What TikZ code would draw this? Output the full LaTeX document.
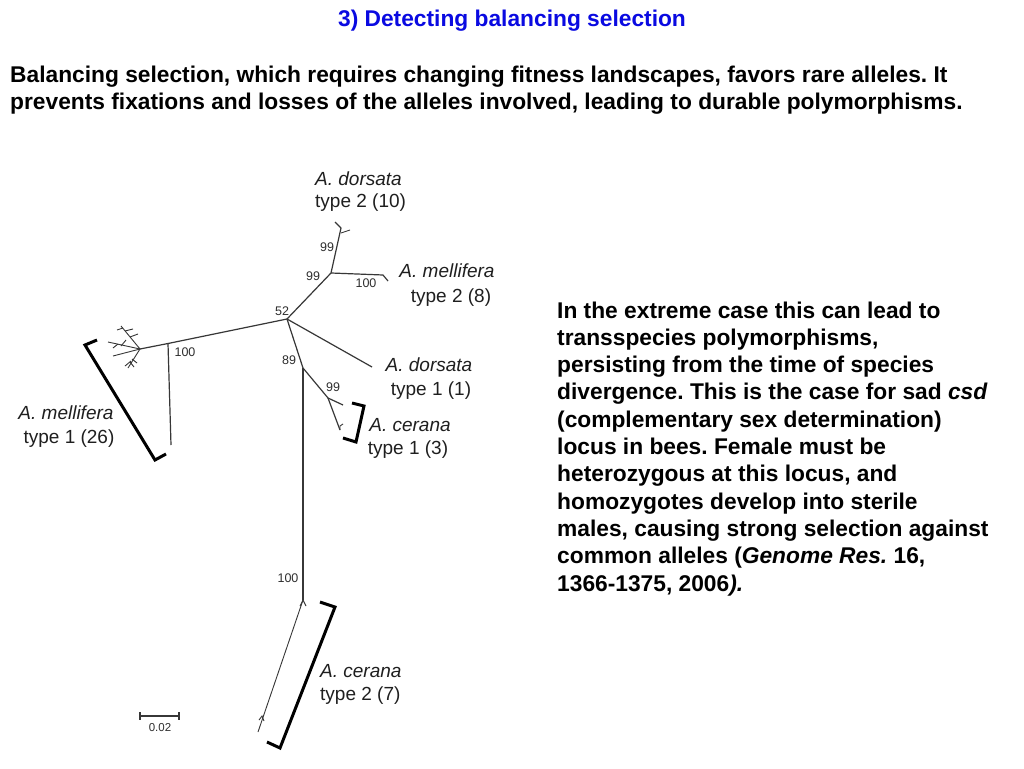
\documentclass[tikz,border=0pt]{standalone}
\usepackage{fontspec}
\setmainfont{Liberation Sans}
\frenchspacing
\definecolor{titleblue}{RGB}{10,10,225}
\definecolor{treegray}{RGB}{55,55,55}
\begin{document}
\begin{tikzpicture}[x=1pt,y=-1pt,
  tree/.style={draw=treegray, line width=1.2pt, line join=round},
  thin tree/.style={draw=treegray, line width=0.9pt},
  bracket/.style={draw=black, line width=3pt, line join=miter},
  lbl/.style={font=\fontsize{19}{22}\selectfont, inner sep=0pt, text=black!88},
  num/.style={font=\fontsize{12.5}{14}\selectfont, inner sep=0pt, text=black!82},
  big/.style={font=\fontsize{22.76}{27.3}\selectfont\bfseries, inner sep=0pt},
]
\useasboundingbox (0,0) rectangle (1024,768);
\fill[white] (0,0) rectangle (1024,768);

% ---------- texts ----------
\node[big, text=titleblue, anchor=base] (title) at (512,27) {3) Detecting balancing selection};
\node[big, anchor=base west] (b1) at (10,82) {Balancing selection, which requires changing fitness landscapes, favors rare alleles. It};
\node[big, anchor=base west] (b2) at (10,109) {prevents fixations and losses of the alleles involved, leading to durable polymorphisms.};

\node[big, anchor=base west] (r1) at (557,318) {In the extreme case this can lead to};
\node[big, anchor=base west] (r2) at (557,345.3) {transspecies polymorphisms,};
\node[big, anchor=base west] (r3) at (557,372.6) {persisting from the time of species};
\node[big, anchor=base west] (r4) at (557,399.9) {divergence. This is the case for sad \textit{csd}};
\node[big, anchor=base west] (r5) at (557,427.2) {(complementary sex determination)};
\node[big, anchor=base west] (r6) at (557,454.5) {locus in bees. Female must be};
\node[big, anchor=base west] (r7) at (557,481.8) {heterozygous at this locus, and};
\node[big, anchor=base west] (r8) at (557,509.1) {homozygotes develop into sterile};
\node[big, anchor=base west] (r9) at (557,536.4) {males, causing strong selection against};
\node[big, anchor=base west] (r10) at (557,563.7) {common alleles (\textit{Genome Res.} 16,};
\node[big, anchor=base west] (r11) at (557,591) {1366-1375, 2006\textit{).}};

% ---------- tree coordinates ----------
\coordinate (C) at (287,319);
\coordinate (N99a) at (331,273);
\coordinate (D2) at (341,228);
\coordinate (D2a) at (335,222);
\coordinate (D2b) at (341,233);
\coordinate (D2c) at (350,230);
\coordinate (M2) at (383,275);
\coordinate (M2t) at (388,281);
\coordinate (L) at (140,349);
\coordinate (N100) at (168,343.5);
\coordinate (N100e) at (171,445);
\coordinate (D1) at (372,367);
\coordinate (N89) at (303,368);
\coordinate (N99b) at (328,398);
\coordinate (C1a) at (343,405);
\coordinate (C1b) at (340,430);
\coordinate (N100c) at (303,600);
\coordinate (C2) at (258,732);

% ---------- tree branches ----------
\draw[tree] (C) -- (N99a) -- (D2) -- (D2a);
\draw[thin tree] (D2b) -- (D2c);
\draw[tree] (N99a) -- (M2) -- (M2t);
\draw[tree] (C) -- (N100) -- (L);
\draw[tree] (N100) -- (N100e);
\draw[tree] (C) -- (D1);
\draw[tree] (C) -- (N89) -- (N99b) -- (C1a);
\draw[tree] (N99b) -- (C1b);
\draw[thin tree] (C1b) -- ++(0,-4) -- ++(3,-2);
\draw[tree, line width=1.5pt] (N89) -- (N100c);
\draw[thin tree] (N100c) -- (C2);
\draw[thin tree] (N100c) ++(-3,6) -- ++(3,-6) -- ++(3,6);
\draw[thin tree] (C2) ++(1,-12) -- ++(3,-4) -- ++(2,5);
% mellifera type 1 fan
\coordinate (F1) at (121,326);
\coordinate (F2) at (108,342);
\coordinate (F3) at (113,356);
\coordinate (F4) at (128,368);
\draw[thin tree] (L) -- (F1);
\draw[thin tree] (L) -- (F2);
\draw[thin tree] (L) -- (F3);
\draw[thin tree] (L) -- (F4);
\draw[thin tree] (125,331) -- (133,329);
\draw[thin tree] (123,328) -- (117,330);
\draw[thin tree] (130,337) -- (138,334);
\draw[thin tree] (121,346) -- (126,340);
\draw[thin tree] (118,344) -- (113,348);
\draw[thin tree] (132,359) -- (137,363);
\draw[thin tree] (130,362) -- (134,367);
\draw[thin tree] (131,361) -- (125,366);

% ---------- brackets ----------
\draw[bracket] (97,340) -- (85,345) -- (155,460) -- (166,454);
\draw[bracket] (352,403) -- (364,406) -- (356,442) -- (343,438);
\draw[bracket] (320,602) -- (335,607) -- (280,748) -- (267,742);

% ---------- labels ----------
\node[lbl, anchor=base west] (ld2a) at (315,185) {\itshape A. dorsata};
\node[lbl, anchor=base west] (ld2b) at (315,207) {type 2 (10)};
\node[lbl, anchor=base] (lm2a) at (447,277) {\itshape A. mellifera};
\node[lbl, anchor=base] (lm2b) at (451,302) {type 2 (8)};
\node[lbl, anchor=base] (ld1a) at (429,371) {\itshape A. dorsata};
\node[lbl, anchor=base] (ld1b) at (431,395) {type 1 (1)};
\node[lbl, anchor=base] (lc1a) at (410,431) {\itshape A. cerana};
\node[lbl, anchor=base] (lc1b) at (408,454) {type 1 (3)};
\node[lbl, anchor=base] (lm1a) at (66,419) {\itshape A. mellifera};
\node[lbl, anchor=base] (lm1b) at (69,443) {type 1 (26)};
\node[lbl, anchor=base west] (lc2a) at (320,677) {\itshape A. cerana};
\node[lbl, anchor=base west] (lc2b) at (320,700) {type 2 (7)};

% ---------- bootstrap numbers ----------
\node[num] (n1) at (327,247) {99};
\node[num] (n2) at (313,276) {99};
\node[num] (n3) at (366,283) {100};
\node[num] (n4) at (282,311) {52};
\node[num] (n5) at (185,352) {100};
\node[num] (n6) at (289,360) {89};
\node[num] (n7) at (333,387) {99};
\node[num] (n8) at (288,578) {100};

% ---------- scale bar ----------
\coordinate (s1) at (140,716);
\coordinate (s2) at (179,716);
\draw[treegray, line width=1.2pt] (s1) -- (s2);
\draw[treegray, line width=1.2pt] (s1) ++(0,-4) -- ++(0,8);
\draw[treegray, line width=1.2pt] (s2) ++(0,-4) -- ++(0,8);
\node[num, font=\fontsize{11.5}{13}\selectfont] (sc) at (160,728) {0.02};
\end{tikzpicture}
\end{document}
